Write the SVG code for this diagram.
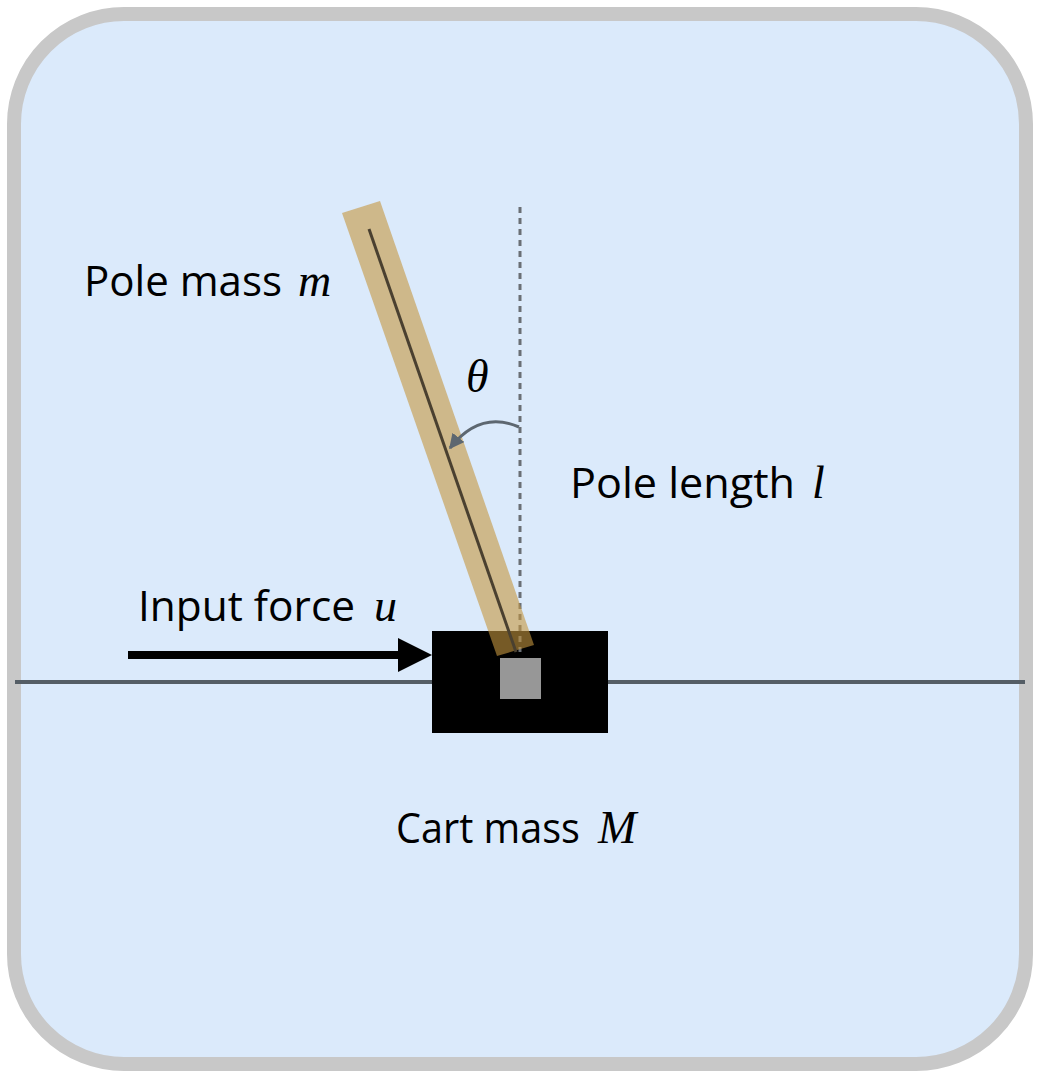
<svg xmlns="http://www.w3.org/2000/svg" width="1040" height="1078" viewBox="0 0 1040 1078">
<defs>
<style>
.lbl{font-family:"Open Sans","Noto Sans",sans-serif;font-size:42px;fill:#000}
.m{font-family:"Liberation Serif",serif;font-style:italic;font-size:46px;fill:#000}
</style>
<marker id="ah" viewBox="0 0 10 10" refX="9" refY="5" markerWidth="5" markerHeight="5" orient="auto"><path d="M0,0L10,5L0,10z" fill="#5d6770"/></marker>
</defs>
<rect x="14" y="14" width="1012" height="1050" rx="110" fill="#dbeafb" stroke="#c8c8c8" stroke-width="14"/>
<g id="ground"><line x1="15" y1="682" x2="1025" y2="682" stroke="#555e66" stroke-width="4"/></g>
<g id="cart"><rect x="432" y="631" width="176" height="102" fill="#000"/><rect x="500" y="658" width="41" height="41" fill="#979797"/></g>
<g id="vertical"><line x1="520" y1="207" x2="520" y2="652" stroke="#6a6f75" stroke-width="3" stroke-dasharray="6,5"/></g>
<g id="pole">
<polygon points="342,213 380,201 534,645 497,656" fill="#c4963f" fill-opacity="0.6"/>
<line x1="369" y1="229" x2="516" y2="652" stroke="#4a4030" stroke-width="3"/>
</g>
<g id="connectors">
<path d="M519,427 Q480,410 450,448" fill="none" stroke="#5d6770" stroke-width="3" marker-end="url(#ah)"/>
<line x1="128" y1="655" x2="402" y2="655" stroke="#000" stroke-width="8"/>
<polygon points="398,638 432,655 398,672" fill="#000"/>
</g>
<g id="labels">
<text class="lbl" x="84" y="296" textLength="198" lengthAdjust="spacingAndGlyphs">Pole mass</text>
<text class="m" x="298" y="296">m</text>
<text class="m" x="466" y="392">θ</text>
<text class="lbl" x="570" y="498" textLength="225" lengthAdjust="spacingAndGlyphs">Pole length</text>
<text class="m" x="812" y="498">l</text>
<text class="lbl" x="138" y="621" textLength="217" lengthAdjust="spacingAndGlyphs">Input force</text>
<text class="m" x="374" y="621">u</text>
<text class="lbl" x="396" y="843" textLength="184" lengthAdjust="spacingAndGlyphs">Cart mass</text>
<text class="m" x="598" y="843">M</text>
</g>
</svg>
